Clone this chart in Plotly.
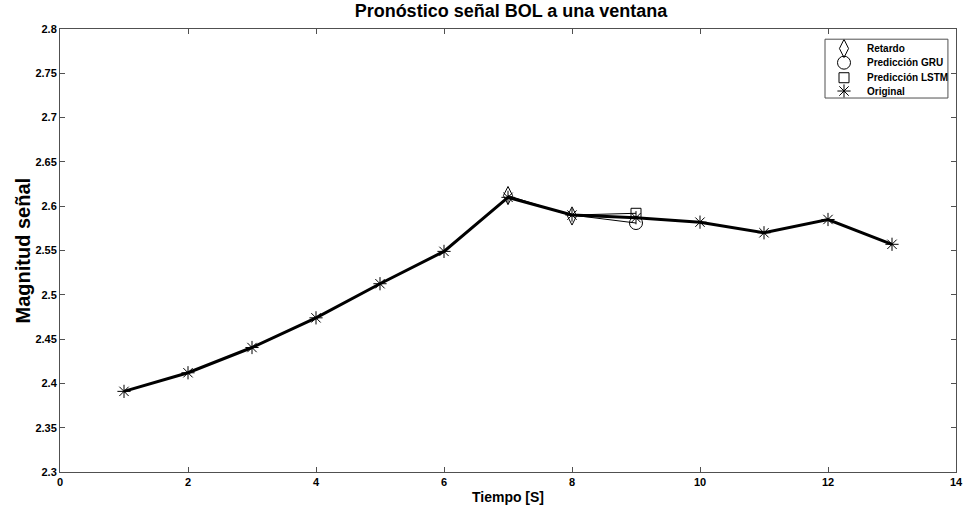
import plotly.graph_objects as go

# Data
t_original = [1, 2, 3, 4, 5, 6, 7, 8, 9, 10, 11, 12, 13]
y_original = [2.391, 2.412, 2.4405, 2.474, 2.5125, 2.549, 2.610, 2.590, 2.587, 2.582, 2.570, 2.585, 2.557]
t_retardo = [7, 8]
y_retardo = [2.612, 2.589]
t_gru = [8, 9]
y_gru = [2.590, 2.581]
t_lstm = [8, 9]
y_lstm = [2.590, 2.592]

x_ticks = [0, 2, 4, 6, 8, 10, 12, 14]
y_ticks = [2.3, 2.35, 2.4, 2.45, 2.5, 2.55, 2.6, 2.65, 2.7, 2.75, 2.8]
y_ticklabels = ["2.3", "2.35", "2.4", "2.45", "2.5", "2.55", "2.6", "2.65", "2.7", "2.75", "2.8"]

legend_names = ["Retardo", "Predicción GRU", "Predicción LSTM", "Original"]

FONT = "Liberation Sans, Arial, sans-serif"
AX = "#505050"

sym = {"Retardo": ("diamond-tall-open", 13),
       "Predicción GRU": ("circle-open", 13),
       "Predicción LSTM": ("square-open", 10),
       "Original": ("asterisk-open", 11)}

fig = go.Figure()

# thin connection lines
fig.add_trace(go.Scatter(x=t_retardo, y=y_retardo, mode="lines",
                         line=dict(color="black", width=1), hoverinfo="skip"))
fig.add_trace(go.Scatter(x=t_gru, y=y_gru, mode="lines",
                         line=dict(color="black", width=1), hoverinfo="skip"))
fig.add_trace(go.Scatter(x=t_lstm, y=y_lstm, mode="lines",
                         line=dict(color="black", width=1), hoverinfo="skip"))
# original thick line
fig.add_trace(go.Scatter(x=t_original, y=y_original, mode="lines",
                         line=dict(color="black", width=3), hoverinfo="skip"))

# markers
def mk(name):
    s, z = sym[name]
    return dict(symbol=s, size=z, color="black", line=dict(width=1, color="black"))

fig.add_trace(go.Scatter(x=t_retardo, y=y_retardo, mode="markers", name="Retardo", marker=mk("Retardo")))
fig.add_trace(go.Scatter(x=t_gru[1:], y=y_gru[1:], mode="markers", name="Predicción GRU", marker=mk("Predicción GRU")))
fig.add_trace(go.Scatter(x=t_lstm[1:], y=y_lstm[1:], mode="markers", name="Predicción LSTM", marker=mk("Predicción LSTM")))
fig.add_trace(go.Scatter(x=t_original, y=y_original, mode="markers", name="Original", marker=mk("Original")))

# custom compact legend (MATLAB style), drawn on an overlay paper-like axis
lg_x0, lg_x1, lg_y0, lg_y1 = 0.8538, 0.991, 0.8442, 0.977
row_y = [0.956, 0.924, 0.890, 0.860]
mark_x = 0.875
text_x = 0.898
for name, ry in zip(legend_names, row_y):
    fig.add_trace(go.Scatter(x=[mark_x], y=[ry], xaxis="x2", yaxis="y2", mode="markers",
                             marker=mk(name), hoverinfo="skip"))
    fig.add_annotation(x=text_x, y=ry, xref="paper", yref="paper", text=f"<b>{name}</b>",
                       showarrow=False, xanchor="left", yanchor="middle",
                       font=dict(family=FONT, size=10, color="black"))
fig.add_shape(type="rect", xref="paper", yref="paper", x0=lg_x0, x1=lg_x1, y0=lg_y0, y1=lg_y1,
              line=dict(color=AX, width=1), fillcolor="rgba(0,0,0,0)", layer="above")

# y-axis label as annotation, centred on the axis like MATLAB
fig.add_annotation(x=(22 - 60) / 896, y=0.5, xref="paper", yref="paper",
                   text="<b>Magnitud señal</b>", textangle=-90, showarrow=False,
                   xanchor="center", yanchor="middle",
                   font=dict(family=FONT, size=20, color="black"))

axis_common = dict(showline=True, linecolor=AX, linewidth=1, mirror="allticks",
                   ticks="inside", ticklen=5, tickcolor=AX, showgrid=False, zeroline=False,
                   automargin=False, tickfont=dict(family=FONT, size=11, color="black"))

fig.update_layout(
    width=964, height=521,
    margin=dict(l=60, r=8, t=29, b=49),
    paper_bgcolor="white", plot_bgcolor="white",
    showlegend=False,
    title=dict(text="<b>Pronóstico señal BOL a una ventana</b>", x=511 / 964, xref="container", xanchor="center",
               y=0.979, yanchor="middle", font=dict(family=FONT, size=18, color="black")),
    xaxis=dict(range=[0, 14], tickvals=x_ticks, ticktext=[f"<b>{v}</b>" for v in x_ticks],
               title=dict(text="<b>Tiempo [S]</b>", font=dict(family=FONT, size=14, color="black"), standoff=4),
               **axis_common),
    yaxis=dict(range=[2.3, 2.8], tickvals=y_ticks, ticktext=[f"<b>{v}</b>" for v in y_ticklabels],
               **axis_common),
    xaxis2=dict(overlaying="x", range=[0, 1], visible=False, fixedrange=True),
    yaxis2=dict(overlaying="y", range=[0, 1], visible=False, fixedrange=True),
)

fig.write_html("out.html", config={"displayModeBar": False},
               post_script="document.body.style.margin='0px';document.body.style.overflow='hidden';")
